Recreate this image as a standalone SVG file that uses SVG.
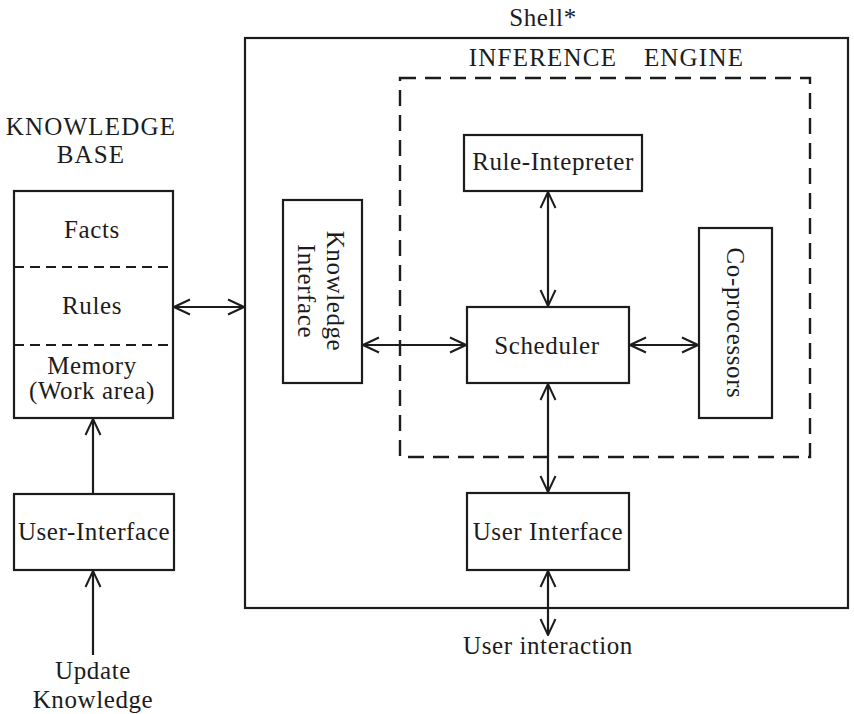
<svg xmlns="http://www.w3.org/2000/svg" width="854" height="714" viewBox="0 0 854 714">
  <defs>
    <style>
      .box { fill: none; stroke: #1c1c1c; stroke-width: 2.2; }
      .dash { fill: none; stroke: #1c1c1c; stroke-width: 2.4; stroke-dasharray: 16 9; }
      .sep { fill: none; stroke: #1c1c1c; stroke-width: 2; stroke-dasharray: 10 6; }
      .conn { fill: none; stroke: #1c1c1c; stroke-width: 2.2; }
      text { font-family: "Liberation Serif", "Times New Roman", serif; font-size: 25px; fill: #1c1c1c; letter-spacing: 0.6px; text-anchor: middle; }
      .caps { letter-spacing: 1.2px; }
    </style>
    <marker id="arr" viewBox="0 0 18 18" refX="17" refY="9" markerWidth="18" markerHeight="18" markerUnits="userSpaceOnUse" orient="auto-start-reverse">
      <path d="M1,1.5 L17,9 L1,16.5" fill="none" stroke="#1c1c1c" stroke-width="2"/>
    </marker>
  </defs>
  <rect width="854" height="714" fill="#ffffff"/>

  <!-- outer shell -->
  <g id="shell">
    <rect class="box" x="245" y="38" width="603" height="570"/>
    <text x="543" y="26">Shell*</text>
  </g>

  <!-- inference engine boundary -->
  <g id="inference-engine">
    <rect class="dash" x="400" y="78" width="410" height="379"/>
    <text class="caps" x="543" y="66">INFERENCE</text>
    <text class="caps" x="694" y="66">ENGINE</text>
  </g>

  <!-- knowledge base stack -->
  <g id="knowledge-base">
    <text class="caps" x="91" y="135">KNOWLEDGE</text>
    <text class="caps" x="91" y="163">BASE</text>
    <rect class="box" x="14" y="191" width="159" height="227"/>
    <line class="sep" x1="14" y1="267" x2="173" y2="267"/>
    <line class="sep" x1="14" y1="345" x2="173" y2="345"/>
    <text x="92" y="238">Facts</text>
    <text x="92" y="314">Rules</text>
    <text x="92" y="374">Memory</text>
    <text x="92" y="399">(Work area)</text>
  </g>

  <g id="user-interface-left">
    <rect class="box" x="14" y="494" width="160" height="76"/>
    <text x="94" y="540">User-Interface</text>
  </g>

  <g id="update-knowledge">
    <text x="93" y="679">Update</text>
    <text x="93" y="708">Knowledge</text>
  </g>

  <g id="knowledge-interface">
    <rect class="box" x="283" y="200" width="79" height="183"/>
    <text transform="translate(327,291) rotate(90)">Knowledge</text>
    <text transform="translate(298,291) rotate(90)">Interface</text>
  </g>

  <g id="rule-interpreter">
    <rect class="box" x="464" y="135" width="178" height="56"/>
    <text x="553" y="170">Rule-Intepreter</text>
  </g>

  <g id="scheduler">
    <rect class="box" x="467" y="307" width="162" height="76"/>
    <text x="547" y="354">Scheduler</text>
  </g>

  <g id="co-processors">
    <rect class="box" x="699" y="228" width="73" height="190"/>
    <text transform="translate(727,323) rotate(90)">Co-processors</text>
  </g>

  <g id="user-interface">
    <rect class="box" x="467" y="493" width="162" height="77"/>
    <text x="548" y="540">User Interface</text>
  </g>

  <g id="user-interaction">
    <text x="548" y="654">User interaction</text>
  </g>

  <!-- connectors -->
  <g id="connectors">
    <line class="conn" x1="174" y1="307" x2="244" y2="307" marker-start="url(#arr)" marker-end="url(#arr)"/>
    <line class="conn" x1="363" y1="345" x2="466" y2="345" marker-start="url(#arr)" marker-end="url(#arr)"/>
    <line class="conn" x1="630" y1="345" x2="698" y2="345" marker-start="url(#arr)" marker-end="url(#arr)"/>
    <line class="conn" x1="548" y1="192" x2="548" y2="306" marker-start="url(#arr)" marker-end="url(#arr)"/>
    <line class="conn" x1="548" y1="384" x2="548" y2="492" marker-start="url(#arr)" marker-end="url(#arr)"/>
    <line class="conn" x1="548" y1="571" x2="548" y2="635" marker-start="url(#arr)" marker-end="url(#arr)"/>
    <line class="conn" x1="93" y1="494" x2="93" y2="419" marker-end="url(#arr)"/>
    <line class="conn" x1="93" y1="655" x2="93" y2="571" marker-end="url(#arr)"/>
  </g>
</svg>
